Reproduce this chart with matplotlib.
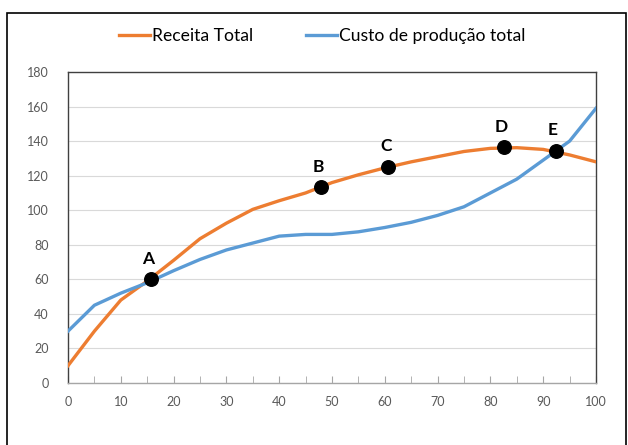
import matplotlib
matplotlib.use('Agg')
import matplotlib.pyplot as plt
from matplotlib.patches import Rectangle

# data
quantidade = [0, 5, 10, 15, 20, 25, 30, 35, 40, 45, 50,
              55, 60, 65, 70, 75, 80, 85, 90, 95, 100]
receita_total = [10, 30, 48, 59, 71, 83.5, 92.5, 100.5, 105.5, 110, 116,
                 120.5, 124.5, 128, 131, 134, 135.8, 136.2, 135.2, 132, 128]
custo_total = [30, 45, 52, 58, 65, 71.5, 77, 81, 85, 86, 86,
               87.5, 90, 93, 97, 102, 110, 118, 129, 140, 159]

pontos_nome = ['A', 'B', 'C', 'D', 'E']
pontos_x = [15.7, 47.9, 60.7, 82.6, 92.4]
pontos_y = [60, 113.3, 125.2, 136.4, 134.4]

plt.rcParams['font.family'] = ['Lato', 'DejaVu Sans']

fig = plt.figure(figsize=(6.28, 4.45), dpi=100)
ax = fig.add_axes([68 / 628, 1 - 383 / 445, 528 / 628, 311 / 445])

# outer chart frame
fig.patches.append(Rectangle((7 / 628, -0.05), 619 / 628, 1.05 - 13 / 445,
                             transform=fig.transFigure, fill=False,
                             edgecolor='black', linewidth=1.2))

ax.plot(quantidade, receita_total, color='#ED7D31', linewidth=2.4,
        label='Receita Total', zorder=3, solid_joinstyle='round')
ax.plot(quantidade, custo_total, color='#5B9BD5', linewidth=2.4,
        label='Custo de produção total', zorder=3, solid_joinstyle='round')

ax.scatter(pontos_x, pontos_y, s=95, color='black', zorder=5)
for nome, px, py in zip(pontos_nome, pontos_x, pontos_y):
    ax.annotate(nome, (px, py), xytext=(-2, 9), textcoords='offset points',
                ha='center', va='bottom', fontsize=12.5, fontweight='bold')

ax.set_xlim(0, 100)
ax.set_ylim(0, 180)
ax.set_xticks(range(0, 101, 10))
ax.set_xticks(range(0, 101, 5), minor=True)
ax.set_yticks(range(0, 181, 20))
ax.grid(axis='y', color='#D9D9D9', linewidth=0.8)
ax.set_axisbelow(True)

for side in ['top', 'right', 'left']:
    ax.spines[side].set_color('#404040')
    ax.spines[side].set_linewidth(1.0)
ax.spines['bottom'].set_color('#A6A6A6')
ax.spines['bottom'].set_linewidth(1.0)

ax.tick_params(axis='x', which='both', direction='in', length=5,
               color='#A6A6A6', labelsize=9, labelcolor='#595959', pad=9)
ax.tick_params(axis='y', length=0, labelsize=9, labelcolor='#595959', pad=14)

fig.legend(loc='center', bbox_to_anchor=(322 / 628, 1 - 36 / 445), ncol=2,
           frameon=False, fontsize=12.6, handlelength=1.8, handletextpad=0.1,
           columnspacing=3.0)

fig.savefig('out.png', dpi=100)
